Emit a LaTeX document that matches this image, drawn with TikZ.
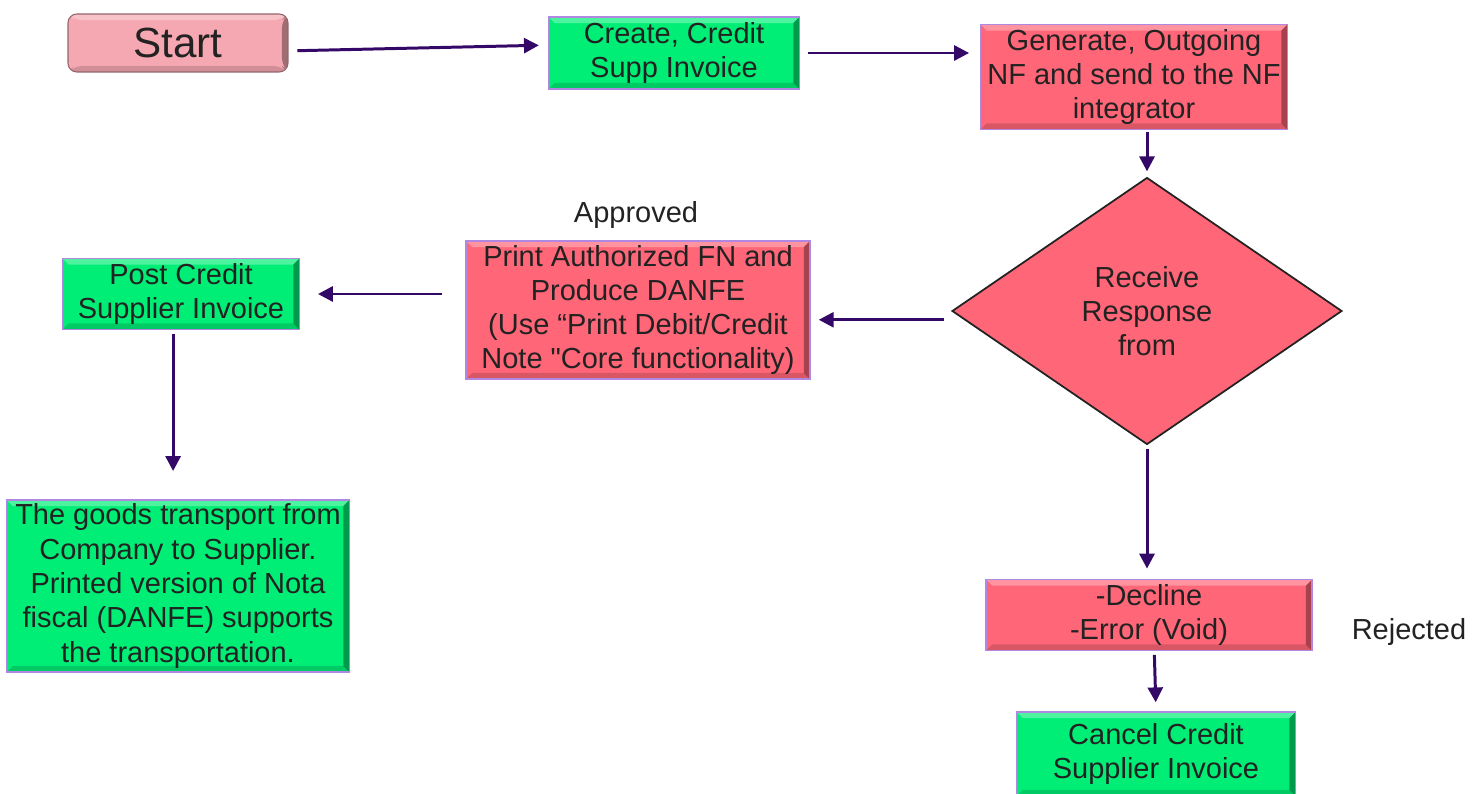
\documentclass[tikz,border=0pt]{standalone}
\usepackage{fontspec}
\setmainfont{Liberation Sans}[Ligatures=TeXOff]
\usetikzlibrary{positioning,arrows.meta,shapes.geometric}

\definecolor{okgreen}{RGB}{0,238,118}
\definecolor{nfred}{RGB}{255,102,119}
\definecolor{startpink}{RGB}{246,168,178}
\definecolor{lilac}{RGB}{176,136,226}
\definecolor{flowpurple}{RGB}{52,8,102}
\definecolor{inkgray}{RGB}{34,34,34}

\tikzset{
  % light top edge, dark right and bottom edges
  bevel/.style={path picture={
    \fill[white,opacity=.3] (path picture bounding box.north west) -- (path picture bounding box.north east)
      -- ([shift={(-3.5pt,-3.5pt)}]path picture bounding box.north east) -- ([shift={(3.5pt,-3.5pt)}]path picture bounding box.north west) -- cycle;
    \fill[black,opacity=.35] (path picture bounding box.north east) -- (path picture bounding box.south east)
      -- ([shift={(-3.5pt,3.5pt)}]path picture bounding box.south east) -- ([shift={(-3.5pt,-3.5pt)}]path picture bounding box.north east) -- cycle;
    \fill[black,opacity=.15] (path picture bounding box.south west) -- (path picture bounding box.south east)
      -- ([shift={(-3.5pt,3.5pt)}]path picture bounding box.south east) -- ([shift={(3.5pt,3.5pt)}]path picture bounding box.south west) -- cycle;
  }},
  process/.style={rectangle, draw=lilac, line width=1pt, bevel, text=inkgray, align=center,
    inner sep=1pt, font=\fontsize{16.5}{19.5}\selectfont},
  okbox/.style={process, fill=okgreen},
  nfbox/.style={process, fill=nfred},
  tag/.style={text=inkgray, font=\fontsize{16.5}{19.5}\selectfont},
  flow/.style={draw=flowpurple, line width=1.7pt, -{Triangle[length=8.5pt,width=8.5pt]}},
}

\begin{document}
\begin{tikzpicture}[x=0.02cm,y=-0.02cm]
    \useasboundingbox (0,0) rectangle (1480,794);

    \node[process, rounded corners=5pt, fill=startpink, draw=startpink!60!black, line width=.6pt,
          minimum width=4.4cm, minimum height=1.16cm, font=\fontsize{24}{28}\selectfont] (start) at (178,43) {Start};
    \node[okbox, minimum width=5.02cm, minimum height=1.44cm] (create) at (674,53) {Create, Credit\\Supp Invoice};
    \node[nfbox, minimum width=6.14cm, minimum height=2.1cm] (gen) at (1134,77) {Generate, Outgoing\\NF and send to the NF\\integrator};
    \node[diamond, fill=nfred, draw=inkgray, line width=1pt, inner sep=0pt, text=inkgray, align=center,
          minimum width=7.8cm, minimum height=5.34cm, font=\fontsize{16.5}{19.5}\selectfont] (dec) at (1147,311) {Receive\\Response\\from};
    \node[nfbox, minimum width=6.88cm, minimum height=2.76cm] (print) at (638,310)
        {Print Authorized FN and\\Produce DANFE\\(Use “Print Debit/Credit\\Note "Core functionality)};
    \node[tag] (approved) at (636,215) {Approved};
    \node[okbox, minimum width=4.74cm, minimum height=1.42cm] (post) at (181,294) {Post Credit\\Supplier Invoice};
    \node[okbox, minimum width=6.86cm, minimum height=3.44cm] (goods) at (178,586)
        {The goods transport from\\Company to Supplier.\\Printed version of Nota\\fiscal (DANFE) supports\\the transportation.};
    \node[nfbox, minimum width=6.52cm, minimum height=1.42cm] (decline) at (1149,615) {-Decline\\-Error (Void)};
    \node[tag] (rejected) at (1409,632) {Rejected};
    \node[okbox, minimum width=5.58cm, minimum height=1.68cm] (cancel) at (1156,754) {Cancel Credit\\Supplier Invoice};

    \coordinate (decout) at ([yshift=-5pt]dec.west);

    \draw[flow, shorten <=5pt, shorten >=5pt] ([yshift=-4.5pt]start.east) -- ([yshift=4.5pt]create.west);
    \draw[flow, shorten <=4.5pt, shorten >=6pt] (create.east) -- (create.east -| gen.west);
    \draw[flow, shorten <=1pt, shorten >=3pt] (gen.south -| dec.north) -- (dec.north);
    \draw[flow, shorten <=4pt, shorten >=4.5pt] (decout) -- (decout -| print.east);
    \draw[flow, shorten <=13pt, shorten >=10pt] (print.west |- post.east) -- (post.east);
    \draw[flow, shorten <=2pt, shorten >=16pt] ([xshift=-4.5pt]post.south) -- ([xshift=-4.5pt]post.south |- goods.north);
    \draw[flow, shorten <=2pt, shorten >=5.7pt] (dec.south) -- (dec.south |- decline.north);
    \draw[flow, shorten <=2pt, shorten >=5pt] ([xshift=3pt]decline.south) -- (cancel.north);
\end{tikzpicture}
\end{document}
